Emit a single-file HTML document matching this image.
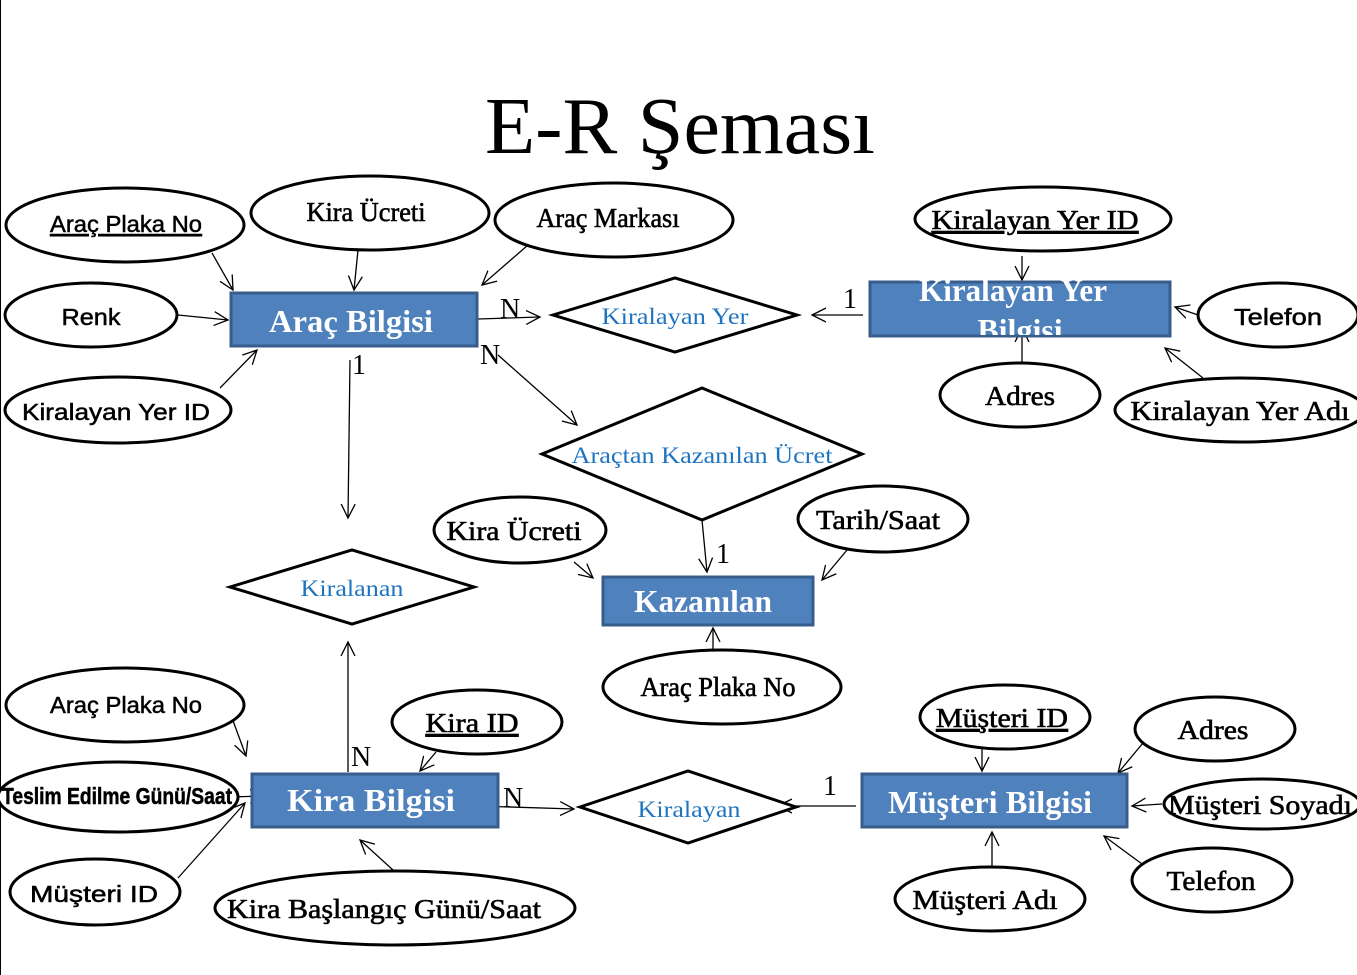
<!DOCTYPE html>
<html><head><meta charset="utf-8"><style>
html,body{margin:0;padding:0;background:#fff;}
svg{display:block;}
.e{fill:#fff;stroke:#000;stroke-width:3;}
.r{fill:#4f81bd;stroke:#385d8a;stroke-width:3;}
.d{fill:#fff;stroke:#000;stroke-width:3;}
.l{stroke:#000;stroke-width:1.3;fill:none;}
.s{font-family:"Liberation Sans",sans-serif;font-size:23px;fill:#000;text-anchor:middle;stroke:#000;stroke-width:0.5;}
.t{font-family:"Liberation Serif",serif;font-size:27px;fill:#000;text-anchor:middle;stroke:#000;stroke-width:0.6;}
.w{font-family:"Liberation Serif",serif;font-size:32px;font-weight:bold;fill:#fff;text-anchor:middle;}
.b{font-family:"Liberation Serif",serif;font-size:23px;fill:#1f74c0;text-anchor:middle;}
.n{font-family:"Liberation Serif",serif;font-size:28px;fill:#000;}
</style></head><body>
<svg width="1357" height="975" viewBox="0 0 1357 975" xmlns="http://www.w3.org/2000/svg">
<defs>
<marker id="a" markerWidth="16" markerHeight="16" refX="14" refY="8" orient="auto" markerUnits="userSpaceOnUse">
<path d="M0,1 L14,8 L0,15" fill="none" stroke="#000" stroke-width="1.3"/></marker>
<clipPath id="c1"><rect x="860" y="265" width="320" height="70"/></clipPath>
</defs>
<line x1="0.5" y1="0" x2="0.5" y2="975" stroke="#000" stroke-width="1"/>
<text x="680" y="153" font-family="Liberation Serif,serif" font-size="80" text-anchor="middle" textLength="390" lengthAdjust="spacingAndGlyphs">E-R Şeması</text>

<g class="l">
<line x1="212" y1="253" x2="233" y2="290" marker-end="url(#a)"/>
<line x1="358" y1="250" x2="354" y2="290" marker-end="url(#a)"/>
<line x1="528" y1="245" x2="482" y2="285" marker-end="url(#a)"/>
<line x1="178" y1="315" x2="228" y2="320" marker-end="url(#a)"/>
<line x1="220" y1="388" x2="257" y2="350" marker-end="url(#a)"/>
<line x1="478" y1="319" x2="540" y2="317" marker-end="url(#a)"/>
<line x1="863" y1="315" x2="812" y2="315" marker-end="url(#a)"/>
<line x1="1022" y1="256" x2="1022" y2="280" marker-end="url(#a)"/>
<line x1="1198" y1="315" x2="1175" y2="307" marker-end="url(#a)"/>
<line x1="1022" y1="363" x2="1022" y2="328" marker-end="url(#a)"/>
<line x1="1203" y1="378" x2="1165" y2="348" marker-end="url(#a)"/>
<line x1="498" y1="355" x2="577" y2="425" marker-end="url(#a)"/>
<line x1="350" y1="360" x2="348" y2="518" marker-end="url(#a)"/>
<line x1="702" y1="520" x2="707" y2="572" marker-end="url(#a)"/>
<line x1="574" y1="562" x2="593" y2="578" marker-end="url(#a)"/>
<line x1="847" y1="550" x2="822" y2="580" marker-end="url(#a)"/>
<line x1="713" y1="650" x2="713" y2="628" marker-end="url(#a)"/>
<line x1="348" y1="772" x2="348" y2="642" marker-end="url(#a)"/>
<line x1="232" y1="718" x2="246" y2="756" marker-end="url(#a)"/>
<line x1="436" y1="752" x2="420" y2="771" marker-end="url(#a)"/>
<line x1="230" y1="797" x2="264" y2="796" marker-end="url(#a)"/>
<line x1="178" y1="878" x2="245" y2="803" marker-end="url(#a)"/>
<line x1="393" y1="870" x2="360" y2="840" marker-end="url(#a)"/>
<line x1="478" y1="806" x2="574" y2="809" marker-end="url(#a)"/>
<line x1="856" y1="806" x2="778" y2="806" marker-end="url(#a)"/>
<line x1="982" y1="748" x2="982" y2="771" marker-end="url(#a)"/>
<line x1="1143" y1="743" x2="1118" y2="773" marker-end="url(#a)"/>
<line x1="1162" y1="804" x2="1132" y2="806" marker-end="url(#a)"/>
<line x1="992" y1="866" x2="992" y2="832" marker-end="url(#a)"/>
<line x1="1142" y1="864" x2="1104" y2="836" marker-end="url(#a)"/>
</g>

<ellipse class="e" cx="125" cy="225" rx="119" ry="37"/><text class="s" x="126" y="232" textLength="152" lengthAdjust="spacingAndGlyphs" text-decoration="underline">Araç Plaka No</text>
<ellipse class="e" cx="370" cy="213" rx="119" ry="37"/><text class="t" x="366" y="221" font-size="25" textLength="119" lengthAdjust="spacingAndGlyphs">Kira Ücreti</text>
<ellipse class="e" cx="614" cy="220" rx="119" ry="37"/><text class="t" x="608" y="227" font-size="25" textLength="143" lengthAdjust="spacingAndGlyphs">Araç Markası</text>
<ellipse class="e" cx="1043" cy="219" rx="128" ry="32"/><text class="t" x="1035" y="229" textLength="207" lengthAdjust="spacingAndGlyphs" text-decoration="underline">Kiralayan Yer ID</text>
<ellipse class="e" cx="91" cy="315" rx="86" ry="32"/><text class="s" x="91" y="325" font-size="26" textLength="59" lengthAdjust="spacingAndGlyphs">Renk</text>
<ellipse class="e" cx="1278" cy="315" rx="80" ry="32"/><text class="s" x="1278" y="325" font-size="26" textLength="88" lengthAdjust="spacingAndGlyphs">Telefon</text>
<ellipse class="e" cx="118" cy="410" rx="113" ry="33"/><text class="s" x="116" y="420" font-size="26" textLength="188" lengthAdjust="spacingAndGlyphs">Kiralayan Yer ID</text>
<ellipse class="e" cx="1020" cy="395" rx="80" ry="32"/><text class="t" x="1020" y="405" textLength="70" lengthAdjust="spacingAndGlyphs">Adres</text>
<ellipse class="e" cx="1240" cy="410" rx="125" ry="32"/><text class="t" x="1240" y="420" textLength="219" lengthAdjust="spacingAndGlyphs">Kiralayan Yer Adı</text>
<ellipse class="e" cx="520" cy="530" rx="86" ry="33"/><text class="t" x="514" y="540" textLength="135" lengthAdjust="spacingAndGlyphs">Kira Ücreti</text>
<ellipse class="e" cx="883" cy="519" rx="85" ry="33"/><text class="t" x="878" y="529" textLength="124" lengthAdjust="spacingAndGlyphs">Tarih/Saat</text>
<ellipse class="e" cx="722" cy="687" rx="119" ry="37"/><text class="t" x="718" y="696" font-size="25" textLength="155" lengthAdjust="spacingAndGlyphs">Araç Plaka No</text>
<ellipse class="e" cx="125" cy="705" rx="119" ry="37"/><text class="s" x="126" y="713" textLength="152" lengthAdjust="spacingAndGlyphs">Araç Plaka No</text>
<ellipse class="e" cx="477" cy="722" rx="85" ry="32"/><text class="t" x="472" y="732" textLength="93" lengthAdjust="spacingAndGlyphs" text-decoration="underline">Kira ID</text>
<ellipse class="e" cx="1005" cy="717" rx="85" ry="32"/><text class="t" x="1002" y="727" textLength="132" lengthAdjust="spacingAndGlyphs" text-decoration="underline">Müşteri ID</text>
<ellipse class="e" cx="1215" cy="729" rx="80" ry="32"/><text class="t" x="1213" y="739" textLength="71" lengthAdjust="spacingAndGlyphs">Adres</text>
<ellipse class="e" cx="118" cy="797" rx="120" ry="35"/><text class="s" x="117" y="804" font-size="19" font-weight="bold" textLength="230" lengthAdjust="spacingAndGlyphs">Teslim Edilme Günü/Saat</text>
<ellipse class="e" cx="1262" cy="804" rx="98" ry="25"/><text class="t" x="1260" y="814" textLength="184" lengthAdjust="spacingAndGlyphs">Müşteri Soyadı</text>
<ellipse class="e" cx="95" cy="892" rx="85" ry="33"/><text class="s" x="94" y="902" font-size="26" textLength="128" lengthAdjust="spacingAndGlyphs">Müşteri ID</text>
<ellipse class="e" cx="395" cy="908" rx="180" ry="37"/><text class="t" x="384" y="918" textLength="314" lengthAdjust="spacingAndGlyphs">Kira Başlangıç Günü/Saat</text>
<ellipse class="e" cx="990" cy="899" rx="95" ry="32"/><text class="t" x="985" y="909" textLength="145" lengthAdjust="spacingAndGlyphs">Müşteri Adı</text>
<ellipse class="e" cx="1212" cy="880" rx="80" ry="32"/><text class="t" x="1211" y="890" textLength="89" lengthAdjust="spacingAndGlyphs">Telefon</text>

<rect class="r" x="231" y="293" width="246" height="53"/><text class="w" x="351" y="332" textLength="164" lengthAdjust="spacingAndGlyphs">Araç Bilgisi</text>
<rect class="r" x="870" y="282" width="300" height="54"/>
<g clip-path="url(#c1)"><text class="w" x="1013" y="301" textLength="188" lengthAdjust="spacingAndGlyphs">Kiralayan Yer</text><text class="w" x="1020" y="341">Bilgisi</text></g>
<rect class="r" x="603" y="577" width="210" height="48"/><text class="w" x="703" y="612" textLength="138" lengthAdjust="spacingAndGlyphs">Kazanılan</text>
<rect class="r" x="252" y="774" width="246" height="53"/><text class="w" x="371" y="811" textLength="168" lengthAdjust="spacingAndGlyphs">Kira  Bilgisi</text>
<rect class="r" x="862" y="774" width="265" height="53"/><text class="w" x="990" y="813" textLength="204" lengthAdjust="spacingAndGlyphs">Müşteri Bilgisi</text>

<polygon class="d" points="553,315 675,278 797,315 675,352"/><text class="b" x="675" y="324" textLength="147" lengthAdjust="spacingAndGlyphs">Kiralayan Yer</text>
<polygon class="d" points="542,454 702,388 862,454 702,520"/><text class="b" x="702" y="463" textLength="261" lengthAdjust="spacingAndGlyphs">Araçtan Kazanılan Ücret</text>
<polygon class="d" points="230,587 352,550 474,587 352,624"/><text class="b" x="352" y="596" textLength="103" lengthAdjust="spacingAndGlyphs">Kiralanan</text>
<polygon class="d" points="580,807 688,771 796,807 688,843"/><text class="b" x="689" y="817" textLength="103" lengthAdjust="spacingAndGlyphs">Kiralayan</text>

<text class="n" x="500" y="318">N</text>
<text class="n" x="843" y="308">1</text>
<text class="n" x="480" y="364">N</text>
<text class="n" x="352" y="374">1</text>
<text class="n" x="716" y="563">1</text>
<text class="n" x="351" y="766">N</text>
<text class="n" x="503" y="807">N</text>
<text class="n" x="823" y="795">1</text>
</svg>
</body></html>
